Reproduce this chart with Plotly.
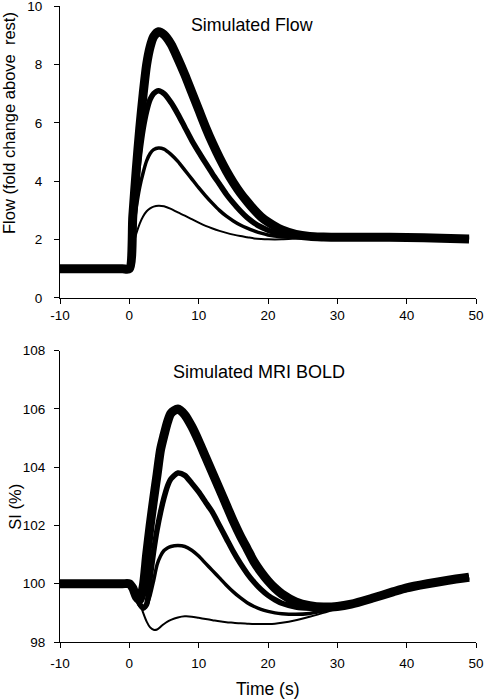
import plotly.graph_objects as go

# ---------------- data ----------------
T_FLOW = [-10, -5, -1, 0, 0.5, 1, 1.5, 2, 2.5, 3, 3.5, 4.2, 5, 6, 7, 8, 9, 10, 11, 12,
          13, 14, 15, 16, 17, 18, 19, 20, 22, 24, 26, 28, 30, 35, 40, 45, 49]

FLOW_1 = [1, 1, 1, 1, 1.75, 2.2, 2.55, 2.8, 2.97, 3.07, 3.13, 3.16, 3.14, 3.05, 2.93,
          2.82, 2.7, 2.58, 2.47, 2.38, 2.3, 2.23, 2.17, 2.12, 2.08, 2.04, 2.02, 2.01,
          2.01, 2.03, 2.05, 2.07, 2.08, 2.08, 2.07, 2.05, 2.02]
FLOW_2 = [1, 1, 1, 1, 2.2, 3.1, 3.8, 4.3, 4.7, 4.95, 5.08, 5.14, 5.1, 4.92, 4.68, 4.38,
          4.08, 3.78, 3.5, 3.24, 3.0, 2.8, 2.64, 2.5, 2.39, 2.3, 2.22, 2.16, 2.1,
          2.08, 2.08, 2.08, 2.08, 2.08, 2.07, 2.05, 2.02]
FLOW_3 = [1, 1, 1, 1, 2.6, 3.9, 4.95, 5.8, 6.4, 6.8, 7.0, 7.1, 7.0, 6.7, 6.3, 5.85, 5.4,
          5.0, 4.62, 4.25, 3.9, 3.55, 3.25, 2.98, 2.75, 2.57, 2.43, 2.32, 2.17,
          2.11, 2.09, 2.08, 2.08, 2.08, 2.07, 2.05, 2.02]
FLOW_4 = [1, 1, 1, 1, 2.8, 4.4, 5.8, 7.0, 8.0, 8.6, 8.95, 9.12, 9.02, 8.7, 8.2, 7.65,
          7.05, 6.45, 5.85, 5.3, 4.8, 4.35, 3.95, 3.6, 3.3, 3.02, 2.78, 2.6, 2.33,
          2.18, 2.11, 2.09, 2.08, 2.08, 2.07, 2.05, 2.02]

T_BOLD = [-10, -5, -1, 0, 0.5, 1, 1.5, 2, 2.5, 3, 3.5, 4, 4.5, 5, 5.5, 6, 7, 8, 9, 10,
          11, 12, 13, 14, 15, 16, 17, 18, 19, 20, 21, 22, 24, 26, 28, 30, 32, 35,
          38, 40, 43, 46, 49]

BOLD_1 = [100, 100, 100, 100, 99.88, 99.6, 99.35, 99.0, 98.7, 98.5, 98.42, 98.43, 98.52,
          98.62, 98.7, 98.76, 98.84, 98.88, 98.87, 98.83, 98.79, 98.75, 98.71,
          98.68, 98.66, 98.64, 98.63, 98.62, 98.62, 98.62, 98.63, 98.66, 98.75,
          98.87, 99.0, 99.15, 99.29, 99.5, 99.72, 99.86, 100.0, 100.12, 100.22]
BOLD_2 = [100, 100, 100, 100, 99.85, 99.5, 99.25, 99.15, 99.25, 99.6, 100.1, 100.65,
          100.95, 101.14, 101.23, 101.28, 101.31, 101.28, 101.15, 100.95, 100.7,
          100.45, 100.2, 99.95, 99.72, 99.52, 99.35, 99.22, 99.12, 99.05, 99.0,
          98.97, 98.95, 98.98, 99.07, 99.18, 99.3, 99.5, 99.72, 99.86, 100.0,
          100.12, 100.22]
BOLD_3 = [100, 100, 100, 100, 99.85, 99.55, 99.3, 99.16, 99.3, 100.2, 101.1, 101.85,
          102.45, 102.95, 103.35, 103.6, 103.8, 103.72, 103.45, 103.15, 102.8,
          102.45, 102.0, 101.55, 101.1, 100.7, 100.35, 100.05, 99.8, 99.6, 99.45,
          99.33, 99.2, 99.16, 99.17, 99.22, 99.3, 99.5, 99.72, 99.86, 100.0,
          100.12, 100.22]
BOLD_4 = [100, 100, 100, 100, 99.85, 99.55, 99.45, 99.9, 101.0, 102.0, 102.9, 103.75,
          104.6, 105.1, 105.55, 105.85, 106.0, 105.8, 105.4, 104.9, 104.35, 103.8,
          103.25, 102.7, 102.15, 101.65, 101.2, 100.75, 100.4, 100.1, 99.85, 99.65,
          99.38, 99.25, 99.2, 99.22, 99.3, 99.5, 99.72, 99.86, 100.0, 100.12, 100.22]

X_TICKS = [-10, 0, 10, 20, 30, 40, 50]
X_TICK_TEXT = ["-10", "0", "10", "20", "30", "40", "50"]
FLOW_TICKS = [0, 2, 4, 6, 8, 10]
BOLD_TICKS = [98, 100, 102, 104, 106, 108]

TOP_TITLE = "Simulated Flow"
BOTTOM_TITLE = "Simulated MRI BOLD"
FLOW_LABEL = "Flow (fold change above\u00a0 rest)"
BOLD_LABEL = "SI (%)"
TIME_LABEL = "Time (s)"

# ---------------- figure ----------------
FONT = "Liberation Sans, Arial, sans-serif"
widths = [2, 3.5, 5.5, 9]

fig = go.Figure()
for ys, w in zip([FLOW_1, FLOW_2, FLOW_3, FLOW_4], widths):
    fig.add_trace(go.Scatter(x=T_FLOW, y=ys, mode="lines",
                             line=dict(color="black", width=w, shape="spline", smoothing=0.7),
                             xaxis="x", yaxis="y", showlegend=False, hoverinfo="skip"))
for ys, w in zip([BOLD_1, BOLD_2, BOLD_3, BOLD_4], widths):
    fig.add_trace(go.Scatter(x=T_BOLD, y=ys, mode="lines",
                             line=dict(color="black", width=w, shape="spline", smoothing=0.7),
                             xaxis="x2", yaxis="y2", showlegend=False, hoverinfo="skip"))

axis_common = dict(showline=True, linecolor="black", linewidth=1, ticks="outside",
                   ticklen=5, tickcolor="black", tickwidth=1, showgrid=False,
                   zeroline=False, ticklabeloverflow="allow",
                   tickfont=dict(family=FONT, size=13.5, color="black"))

fig.update_layout(
    width=484, height=700,
    margin=dict(l=60, r=8, t=6, b=58),
    template="none",
    paper_bgcolor="white", plot_bgcolor="white",
    font=dict(family=FONT, color="black"),
    xaxis=dict(domain=[0, 1], anchor="y", range=[-10, 50], tickvals=X_TICKS,
               ticktext=X_TICK_TEXT, ticklabelstandoff=0, **axis_common),
    yaxis=dict(domain=[0.5409, 1], anchor="x", range=[0, 10], tickvals=FLOW_TICKS,
               ticklabelstandoff=9, **axis_common),
    xaxis2=dict(domain=[0, 1], anchor="y2", range=[-10, 50], tickvals=X_TICKS,
                ticktext=X_TICK_TEXT, ticklabelstandoff=4, **axis_common),
    yaxis2=dict(domain=[0, 0.458], anchor="x2", range=[98, 108], tickvals=BOLD_TICKS,
                ticklabelstandoff=6, **axis_common),
    annotations=[
        dict(text=TOP_TITLE, xref="paper", yref="paper", x=0.4627, y=0.9701,
             xanchor="center", yanchor="middle", showarrow=False,
             font=dict(family=FONT, size=17.8, color="black")),
        dict(text=BOTTOM_TITLE, xref="paper", yref="paper", x=0.4772, y=0.4253,
             xanchor="center", yanchor="middle", showarrow=False,
             font=dict(family=FONT, size=18, color="black")),
        dict(text=FLOW_LABEL, xref="paper", yref="paper", x=-0.1238, y=0.8168,
             xanchor="center", yanchor="middle", textangle=-90, showarrow=False,
             font=dict(family=FONT, size=16.5, color="black")),
        dict(text=BOLD_LABEL, xref="paper", yref="paper", x=-0.1082, y=0.2127,
             xanchor="center", yanchor="middle", textangle=-90, showarrow=False,
             font=dict(family=FONT, size=16.5, color="black")),
        dict(text=TIME_LABEL, xref="paper", yref="paper", x=0.5, y=-0.0739,
             xanchor="center", yanchor="middle", showarrow=False,
             font=dict(family=FONT, size=17.5, color="black")),
    ],
)

# remove the browser's default page margin so the 484x700 figure fills the window exactly
fig.write_html("out.html", config={"displayModeBar": False},
               post_script="document.body.style.margin='0';")
